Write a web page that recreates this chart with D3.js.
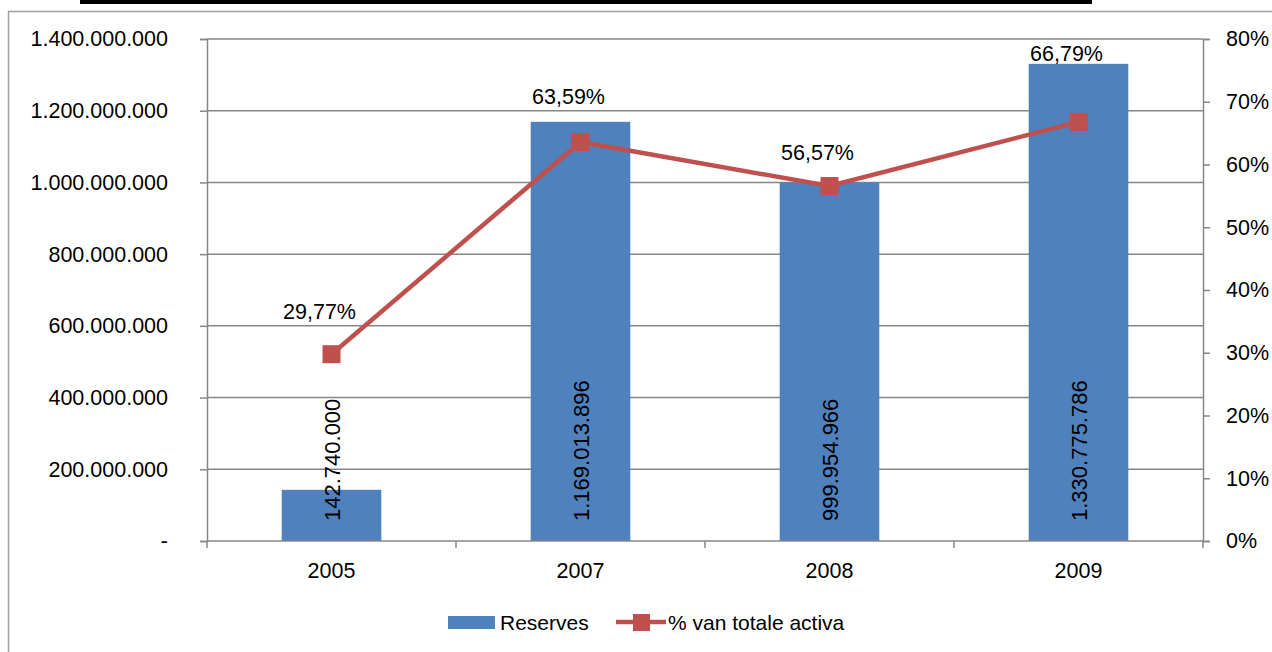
<!DOCTYPE html>
<html>
<head>
<meta charset="utf-8">
<script src="https://cdnjs.cloudflare.com/ajax/libs/d3/7.8.5/d3.min.js"></script>
<style>
  body { margin: 0; background: #fff; }
  svg { display: block; }
  text { font-family: "Liberation Sans", Arial, sans-serif; fill: #000; }
</style>
</head>
<body>
<div id="chart"></div>
<script>
  // chart data
  var years = ["2005", "2007", "2008", "2009"];
  var reserves = [142740000, 1169013896, 999954966, 1330775786];
  var pctActiva = [29.77, 63.59, 56.57, 66.79];
  var leftTicks = [0, 200000000, 400000000, 600000000, 800000000, 1000000000, 1200000000, 1400000000];
  var rightTicks = [0, 10, 20, 30, 40, 50, 60, 70, 80];

  // hand placed label offsets (pixels above the marker), as in the original
  var pctLabelLift = [35, 38, 26, 61];

  var W = 1272, H = 652,
      plot = {left: 207, right: 1203, top: 39, bottom: 541},
      gridCol = "#868686",
      barCol = "#4F81BD",
      lineCol = "#C0504D",
      fs = "21.5px";

  var svg = d3.select("#chart").append("svg")
      .attr("width", W)
      .attr("height", H);

  // cut-off heading underline and outer frame
  svg.append("rect").attr("x", 80).attr("y", 0).attr("width", 1012).attr("height", 4).attr("fill", "#000");
  svg.append("rect").attr("x", 8.5).attr("y", 11.5).attr("width", W).attr("height", H)
      .attr("fill", "none").attr("stroke", "#a0a0a0").attr("stroke-width", 1.5);

  var x = d3.scaleBand().domain(years).range([plot.left, plot.right]).paddingInner(0.6).paddingOuter(0.3);
  var xb = d3.scaleBand().domain(years).range([plot.left, plot.right]);
  var y = d3.scaleLinear().domain([0, 1400000000]).range([plot.bottom, plot.top]);
  var y2 = d3.scaleLinear().domain([0, 80]).range([plot.bottom, plot.top]);

  function fmtNum(v) {
    if (v === 0) return "-";
    return d3.format(",")(v).replace(/,/g, ".");
  }
  function fmtPct(v) { return d3.format(".2f")(v).replace(".", ",") + "%"; }

  // gridlines
  svg.append("g").selectAll("line")
    .data(leftTicks.slice(1))
    .enter().append("line")
      .attr("x1", plot.left).attr("x2", plot.right)
      .attr("y1", function(d) { return y(d); }).attr("y2", function(d) { return y(d); })
      .attr("stroke", gridCol).attr("stroke-width", 1.5);

  // left axis
  var yAxis = svg.append("g")
      .attr("transform", "translate(" + plot.left + ",0)")
      .call(d3.axisLeft(y).tickValues(leftTicks).tickFormat(fmtNum).tickSize(7).tickPadding(32));
  yAxis.selectAll("text").style("font-size", fs);

  // right axis
  var y2Axis = svg.append("g")
      .attr("transform", "translate(" + plot.right + ",0)")
      .call(d3.axisRight(y2).tickValues(rightTicks).tickFormat(function(d) { return d + "%"; }).tickSize(7).tickPadding(16));
  y2Axis.selectAll("text").style("font-size", fs);

  // x axis with ticks on category boundaries
  var xAxis = svg.append("g")
      .attr("transform", "translate(0," + plot.bottom + ")")
      .call(d3.axisBottom(x).tickSize(0).tickPadding(22));
  xAxis.selectAll("text").style("font-size", fs);
  xAxis.select(".domain").remove();
  svg.append("g").selectAll("line")
    .data(years.concat(["end"]))
    .enter().append("line")
      .attr("x1", function(d, i) { return i < years.length ? xb(d) : plot.right; })
      .attr("x2", function(d, i) { return i < years.length ? xb(d) : plot.right; })
      .attr("y1", plot.bottom).attr("y2", plot.bottom + 7)
      .attr("stroke", gridCol).attr("stroke-width", 1.5);

  svg.selectAll(".domain, .tick line").attr("stroke", gridCol).attr("stroke-width", 1.5);

  // bars
  svg.append("g").selectAll("rect")
    .data(reserves)
    .enter().append("rect")
      .attr("x", function(d, i) { return x(years[i]); })
      .attr("y", function(d) { return y(d); })
      .attr("width", x.bandwidth())
      .attr("height", function(d) { return plot.bottom - y(d); })
      .attr("fill", barCol);

  // bottom axis line over the bars
  svg.append("line")
      .attr("x1", plot.left).attr("x2", plot.right)
      .attr("y1", plot.bottom).attr("y2", plot.bottom)
      .attr("stroke", gridCol).attr("stroke-width", 1.5);

  // rotated bar labels
  svg.append("g").selectAll("text")
    .data(reserves)
    .enter().append("text")
      .attr("transform", function(d, i) {
        return "translate(" + (x(years[i]) + x.bandwidth() / 2 + 8) + "," + (plot.bottom - 20) + ") rotate(-90)";
      })
      .style("font-size", "22px")
      .text(fmtNum);

  // line series
  var cx = function(i) { return x(years[i]) + x.bandwidth() / 2; };
  var line = d3.line()
      .x(function(d, i) { return cx(i); })
      .y(function(d) { return y2(d); });

  svg.append("path")
      .datum(pctActiva)
      .attr("d", line)
      .attr("fill", "none")
      .attr("stroke", lineCol)
      .attr("stroke-width", 4.5);

  svg.append("g").selectAll("rect")
    .data(pctActiva)
    .enter().append("rect")
      .attr("x", function(d, i) { return cx(i) - 9; })
      .attr("y", function(d) { return y2(d) - 9; })
      .attr("width", 18).attr("height", 18)
      .attr("fill", lineCol);

  svg.append("g").selectAll("text")
    .data(pctActiva)
    .enter().append("text")
      .attr("x", function(d, i) { return cx(i) - 12; })
      .attr("y", function(d, i) { return y2(d) - pctLabelLift[i]; })
      .attr("text-anchor", "middle")
      .style("font-size", fs)
      .text(fmtPct);

  // legend
  var lg = svg.append("g");
  lg.append("rect").attr("x", 448).attr("y", 616).attr("width", 47).attr("height", 13).attr("fill", barCol);
  lg.append("text").attr("x", 500).attr("y", 630).style("font-size", "21px").text("Reserves");
  lg.append("line").attr("x1", 616).attr("x2", 666).attr("y1", 622).attr("y2", 622)
      .attr("stroke", lineCol).attr("stroke-width", 4.5);
  lg.append("rect").attr("x", 633).attr("y", 614).attr("width", 17).attr("height", 17).attr("fill", lineCol);
  lg.append("text").attr("x", 668).attr("y", 630).style("font-size", "21px").text("% van totale activa");
</script>
</body>
</html>
